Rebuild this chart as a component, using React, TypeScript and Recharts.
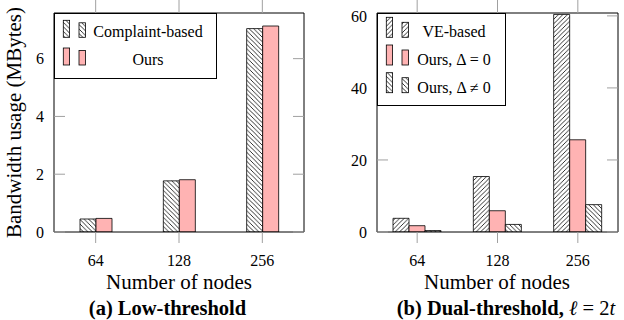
import React from 'react';
import { BarChart, Bar, XAxis, YAxis, Legend } from 'recharts';

const categories = ['64', '128', '256'];
// (a) Low-threshold
const complaintBased = [0.45, 1.77, 7.04];
const oursLow = [0.47, 1.81, 7.13];
// (b) Dual-threshold
const veBased = [3.8, 15.4, 60.4];
const oursDeltaZero = [1.75, 5.9, 25.6];
const oursDeltaNonZero = [0.4, 2.1, 7.6];
const leftTicks = [0, 2, 4, 6];
const rightTicks = [0, 20, 40, 60];

const leftData = categories.map((c, i) => ({ cat: c, complaint: complaintBased[i], ours: oursLow[i] }));
const rightData = categories.map((c, i) => ({
  cat: c,
  ve: veBased[i],
  zero: oursDeltaZero[i],
  nonzero: oursDeltaNonZero[i],
}));

const FONT = "'Liberation Serif', 'Times New Roman', serif";
const PINK = '#FFB3B3';
const TICK_GRAY = '#a0a0a0';
const NW = 'url(#hatchNW)';
const NE = 'url(#hatchNE)';
const serif = { fontFamily: FONT };

type Entry = { fill: string; label: React.ReactNode };

function LegendBox(props: { width: number; height: number; entries: Entry[]; textX: number; h1: number; h2: number }) {
  const { width, height, entries, textX, h1, h2 } = props;
  return (
    <svg width={width} height={height} style={{ display: 'block' }}>
      <rect x={0.5} y={0.5} width={width - 1} height={height - 1} fill="#fff" stroke="#000" strokeWidth={1} />
      {entries.map((e, i) => {
        const base = 24.3 + i * 27.7;
        return (
          <g key={i}>
            <rect x={9.3} y={base - h1} width={6.3} height={h1} fill={e.fill} stroke="#000" strokeWidth={0.8} />
            <rect x={25} y={base - h2} width={6.5} height={h2} fill={e.fill} stroke="#000" strokeWidth={0.8} />
            <text x={textX} y={base} textAnchor="middle" fontSize={16} fontFamily={FONT} style={serif} fill="#000">
              {e.label}
            </text>
          </g>
        );
      })}
    </svg>
  );
}

const tickStyle = { fontSize: 16, fontFamily: FONT, fill: '#000', style: serif };
const noTick = () => <g />;

export default function App() {
  return (
    <div
      style={{
        position: 'absolute',
        left: 0,
        top: 0,
        width: 624,
        height: 320,
        background: '#fff',
        fontFamily: FONT,
      }}
    >
      <svg width={0} height={0} style={{ position: 'absolute' }}>
        <defs>
          <pattern id="hatchNW" patternUnits="userSpaceOnUse" width={4.5} height={4.5}>
            <rect width={4.5} height={4.5} fill="#fff" />
            <path d="M0,0 L4.5,4.5 M-1,3.5 L1,5.5 M3.5,-1 L5.5,1" stroke="#000" strokeWidth={0.8} />
          </pattern>
          <pattern id="hatchNE" patternUnits="userSpaceOnUse" width={4.5} height={4.5}>
            <rect width={4.5} height={4.5} fill="#fff" />
            <path d="M0,4.5 L4.5,0 M-1,1 L1,-1 M3.5,5.5 L5.5,3.5" stroke="#000" strokeWidth={0.8} />
          </pattern>
        </defs>
      </svg>

      <div style={{ position: 'absolute', left: 0, top: 0 }}>
        <BarChart
          width={312}
          height={320}
          data={leftData}
          margin={{ top: 0, right: 0, bottom: 0, left: 0 }}
          barSize={16}
          barGap={0}
          style={serif}
        >
          <XAxis
            dataKey="cat"
            xAxisId="bottom"
            height={88}
            interval={0}
            tick={tickStyle}
            tickSize={11}
            tickMargin={12}
            tickLine={{ stroke: TICK_GRAY }}
            axisLine={{ stroke: '#000' }}
          />
          <XAxis
            dataKey="cat"
            xAxisId="top"
            orientation="top"
            height={13}
            interval={0}
            tick={noTick}
            tickSize={13}
            tickLine={{ stroke: TICK_GRAY }}
            axisLine={{ stroke: '#000' }}
          />
          <YAxis
            yAxisId="left"
            width={54}
            domain={[0, 7.58]}
            ticks={leftTicks}
            allowDataOverflow
            tick={tickStyle}
            tickSize={-11}
            tickMargin={21}
            tickLine={{ stroke: TICK_GRAY }}
            axisLine={{ stroke: '#000' }}
          />
          <YAxis
            yAxisId="right"
            orientation="right"
            width={8}
            domain={[0, 7.58]}
            ticks={leftTicks}
            allowDataOverflow
            tick={noTick}
            tickSize={-11}
            tickLine={{ stroke: TICK_GRAY }}
            axisLine={{ stroke: '#000' }}
          />
          <Legend
            layout="horizontal"
            verticalAlign="middle"
            align="center"
            wrapperStyle={{ left: 54, top: 13, width: 163, height: 66 }}
            content={() => (
              <LegendBox
                width={163}
                height={66}
                textX={94}
                h1={17}
                h2={14.5}
                entries={[
                  { fill: NW, label: 'Complaint-based' },
                  { fill: PINK, label: 'Ours' },
                ]}
              />
            )}
          />
          <Bar dataKey="complaint" xAxisId="bottom" yAxisId="left" fill={NW} stroke="#000" strokeWidth={0.8} isAnimationActive={false} />
          <Bar dataKey="ours" xAxisId="bottom" yAxisId="left" fill={PINK} stroke="#000" strokeWidth={0.8} isAnimationActive={false} />
        </BarChart>
      </div>

      <div style={{ position: 'absolute', left: 312, top: 0 }}>
        <BarChart
          width={312}
          height={320}
          data={rightData}
          margin={{ top: 0, right: 0, bottom: 0, left: 0 }}
          barSize={16}
          barGap={0}
          style={serif}
        >
          <XAxis
            dataKey="cat"
            xAxisId="bottom"
            height={88}
            interval={0}
            tick={tickStyle}
            tickSize={11}
            tickMargin={12}
            tickLine={{ stroke: TICK_GRAY }}
            axisLine={{ stroke: '#000' }}
          />
          <XAxis
            dataKey="cat"
            xAxisId="top"
            orientation="top"
            height={13}
            interval={0}
            tick={noTick}
            tickSize={13}
            tickLine={{ stroke: TICK_GRAY }}
            axisLine={{ stroke: '#000' }}
          />
          <YAxis
            yAxisId="left"
            width={65}
            domain={[0, 60.8]}
            ticks={rightTicks}
            allowDataOverflow
            tick={tickStyle}
            tickSize={-11}
            tickMargin={21}
            tickLine={{ stroke: TICK_GRAY }}
            axisLine={{ stroke: '#000' }}
          />
          <YAxis
            yAxisId="right"
            orientation="right"
            width={6}
            domain={[0, 60.8]}
            ticks={rightTicks}
            allowDataOverflow
            tick={noTick}
            tickSize={-11}
            tickLine={{ stroke: TICK_GRAY }}
            axisLine={{ stroke: '#000' }}
          />
          <Legend
            layout="horizontal"
            verticalAlign="middle"
            align="center"
            wrapperStyle={{ left: 65, top: 13, width: 129, height: 93 }}
            content={() => (
              <LegendBox
                width={129}
                height={93}
                textX={77}
                h1={20}
                h2={15}
                entries={[
                  { fill: NE, label: 'VE-based' },
                  { fill: PINK, label: 'Ours, Δ = 0' },
                  { fill: NW, label: 'Ours, Δ ≠ 0' },
                ]}
              />
            )}
          />
          <Bar dataKey="ve" xAxisId="bottom" yAxisId="left" fill={NE} stroke="#000" strokeWidth={0.8} isAnimationActive={false} />
          <Bar dataKey="zero" xAxisId="bottom" yAxisId="left" fill={PINK} stroke="#000" strokeWidth={0.8} isAnimationActive={false} />
          <Bar dataKey="nonzero" xAxisId="bottom" yAxisId="left" fill={NW} stroke="#000" strokeWidth={0.8} isAnimationActive={false} />
        </BarChart>
      </div>

      <svg width={624} height={320} style={{ position: 'absolute', left: 0, top: 0, pointerEvents: 'none' }}>
        <text
          transform="translate(20.7,122.5) rotate(-90)"
          textAnchor="middle"
          fontSize={21}
          fontFamily={FONT}
          style={serif}
          fill="#000"
        >
          Bandwidth usage (MBytes)
        </text>
        <text x={179} y={289.3} textAnchor="middle" fontSize={21} fontFamily={FONT} style={serif} fill="#000">
          Number of nodes
        </text>
        <text x={497} y={289.3} textAnchor="middle" fontSize={21} fontFamily={FONT} style={serif} fill="#000">
          Number of nodes
        </text>
        <text
          x={167.5}
          y={315}
          textAnchor="middle"
          fontSize={20.5}
          fontWeight="bold"
          fontFamily={FONT}
          style={serif}
          fill="#000"
        >
          (a) Low-threshold
        </text>
        <text x={506} y={315} textAnchor="middle" fontSize={20.5} fontFamily={FONT} style={serif} fill="#000">
          <tspan fontWeight="bold">(b) Dual-threshold, </tspan>
          <tspan fontStyle="italic">ℓ</tspan>
          <tspan> = 2</tspan>
          <tspan fontStyle="italic">t</tspan>
        </text>
      </svg>
    </div>
  );
}
